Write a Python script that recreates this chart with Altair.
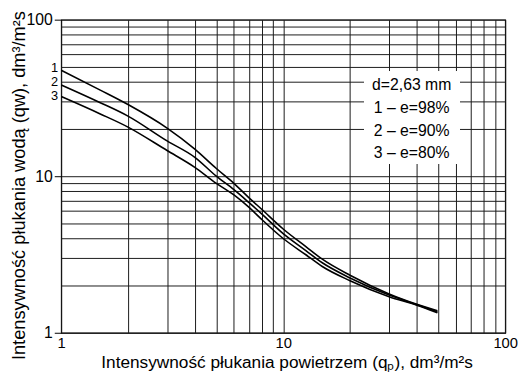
import altair as alt
import pandas as pd

# ---- data ----
x_vals = [1, 1.5, 2, 3, 4, 5, 6, 7, 8, 10, 12.65, 15, 20, 30, 40, 49.5]
curve_1 = [47.5, 35.5, 28.7, 20.3, 14.9, 11.2, 9.0, 7.3, 6.15, 4.6, 3.55, 2.95, 2.33, 1.77, 1.52, 1.38]
curve_2 = [38.3, 29.5, 24.2, 16.8, 13.2, 10.0, 8.2, 6.8, 5.75, 4.3, 3.35, 2.80, 2.24, 1.74, 1.51, 1.36]
curve_3 = [32.3, 25.0, 20.6, 14.6, 11.4, 9.0, 7.6, 6.35, 5.3, 4.0, 3.15, 2.65, 2.15, 1.70, 1.50, 1.34]
curve_names = ["1", "2", "3"]

grid_vals = [1, 2, 3, 4, 5, 6, 7, 8, 9, 10, 20, 30, 40, 50, 60, 70, 80, 90, 100]

legend_lines = ["d=2,63 mm", "1 – e=98%", "2 – e=90%", "3 – e=80%"]

x_title = "Intensywność płukania powietrzem (qₚ), dm³/m²s"
y_title = "Intensywność płukania wodą (qw), dm³/m²s"

# ---- tables ----
rows = []
for name, ys in zip(curve_names, [curve_1, curve_2, curve_3]):
    for i, (xv, yv) in enumerate(zip(x_vals, ys)):
        rows.append({"curve": name, "x": xv, "y": yv, "order": i})
df = pd.DataFrame(rows)

FONT = "Liberation Sans"
major_test = "indexof([1, 10, 100], datum.value) >= 0"

xscale = alt.Scale(type="log", domain=[1, 100], nice=False)
yscale = alt.Scale(type="log", domain=[1, 100], nice=False)

x_axis = alt.Axis(
    values=grid_vals,
    labelExpr=f"{major_test} ? format(datum.value, 'd') : ''",
    grid=True, gridColor="#1a1a1a", gridWidth=1, gridOpacity=1,
    ticks=False, domain=False,
    labelFont=FONT, labelFontSize=15, labelColor="black",
    labelPadding=3, labelFlush=False, labelOverlap=False, labelBound=False,
    title=x_title, titleFont=FONT, titleFontSize=17.5, titleFontWeight="normal",
    titleColor="black", titleX=229, titleY=35.5, titleBaseline="alphabetic",
    titleAnchor="middle",
)
y_axis = alt.Axis(
    values=grid_vals,
    labelExpr=f"{major_test} ? format(datum.value, 'd') : ''",
    grid=True, gridColor="#1a1a1a", gridWidth=1, gridOpacity=1,
    ticks=True, tickColor="black", tickWidth=1,
    tickSize={"condition": {"test": major_test, "value": 7}, "value": 0},
    domain=False,
    labelFont=FONT, labelFontSize=16, labelColor="black",
    labelPadding=2, labelFlush=False, labelOverlap=False, labelBound=False,
    title=y_title, titleFont=FONT, titleFontSize=18.5, titleFontWeight="normal",
    titleColor="black", titleX=-33, titleY=168, titleAngle=270,
    titleAnchor="middle",
)

lines = alt.Chart(df).mark_line(color="black", strokeWidth=1.6, interpolate="monotone").encode(
    x=alt.X("x:Q", scale=xscale, axis=x_axis),
    y=alt.Y("y:Q", scale=yscale, axis=y_axis),
    detail="curve:N",
    order="order:Q",
)

# curve number labels at the start of each curve
label_dy = {"1": -2, "2": -3, "3": 0}
label_layers = []
for name in curve_names:
    d0 = df[(df["curve"] == name) & (df["order"] == 0)]
    label_layers.append(
        alt.Chart(d0).mark_text(
            font=FONT, fontSize=13, color="black", align="right", baseline="middle",
            dx=-3, dy=label_dy[name],
        ).encode(
            x=alt.X("x:Q", scale=xscale),
            y=alt.Y("y:Q", scale=yscale),
            text="curve:N",
        )
    )

# white annotation box with its text
box = alt.Chart(df).mark_rect(fill="white").encode(
    x=alt.value(308), x2=alt.value(405), y=alt.value(53), y2=alt.value(146)
)
legend_y = [66, 90, 113, 136]
legend_layers = []
for txt, yy in zip(legend_lines, legend_y):
    legend_layers.append(
        alt.Chart(pd.DataFrame({"t": [txt]})).mark_text(
            font=FONT, fontSize=16, color="black", align="center", baseline="middle",
        ).encode(x=alt.value(356), y=alt.value(yy), text="t:N")
    )

chart = alt.layer(box, lines, *label_layers, *legend_layers).properties(
    width=451, height=318,
    autosize=alt.AutoSizeParams(type="none"),
    padding={"left": 54, "top": 9, "right": 13, "bottom": 37},
    background="white",
).configure_view(stroke="black", strokeWidth=1.2)

chart.save("out.html", embed_options={"renderer": "svg", "actions": False})
